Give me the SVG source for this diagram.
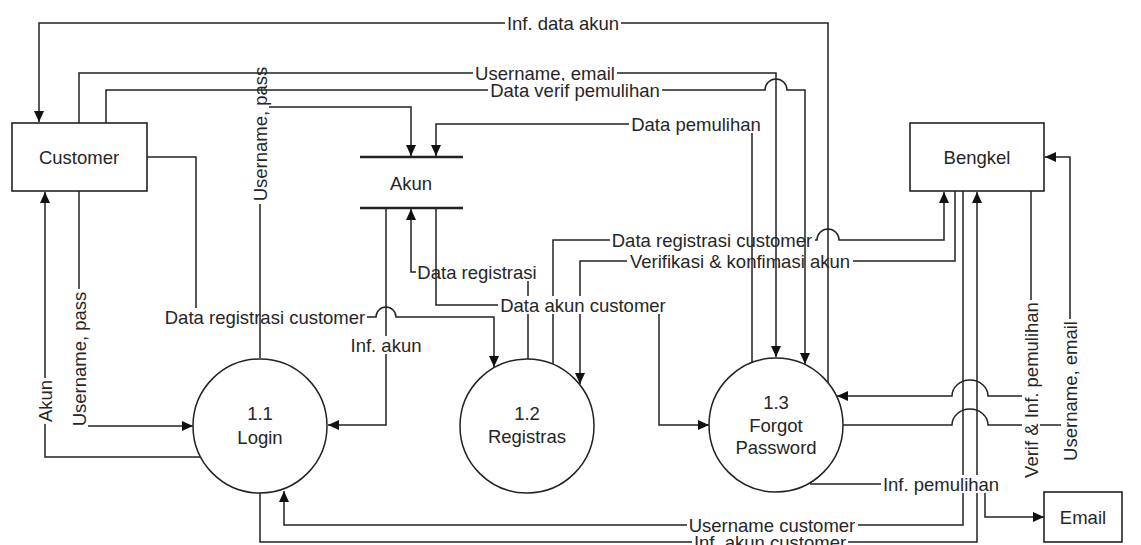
<svg xmlns="http://www.w3.org/2000/svg" width="1141" height="545" viewBox="0 0 1141 545">
<style>
text{font-family:"Liberation Sans",Arial,sans-serif;font-size:18.5px;fill:#262626;text-anchor:middle;dominant-baseline:central}
.ent{fill:#fff;stroke:#222;stroke-width:1.6}
.proc{fill:#fff;stroke:#222;stroke-width:1.5}
.ds{stroke:#222;stroke-width:2.6}
.c{fill:none;stroke:#222;stroke-width:1.5}
.a{marker-end:url(#ah)}
.bg{fill:#fff}
</style>
<defs>
<marker id="ah" markerWidth="11" markerHeight="10" refX="11" refY="5" orient="auto" markerUnits="userSpaceOnUse">
<path d="M0,0 L11,5 L0,10 z" fill="#111"/>
</marker>
</defs>
<rect width="1141" height="545" fill="#fff"/>

<g id="connectors">
<!-- 1.2 -> Bengkel : Data registrasi customer -->
<path class="c a" d="M553,364 V240 H817 A11 11 0 0 1 839,240 H944 V192"/>
<rect class="bg" x="610" y="231" width="205" height="18"/>
<text x="712" y="240">Data registrasi customer</text>
<!-- Bengkel -> 1.2 : Verifikasi -->
<path class="c a" d="M955,191 V261 H580 V384"/>
<rect class="bg" x="627" y="252" width="226" height="18"/>
<text x="740" y="261">Verifikasi &amp; konfimasi akun</text>
<!-- Customer -> 1.2 -->
<path class="c a" d="M146,157 H196 V317 H376 A10 10 0 0 1 396,317 H494 V367"/>
<rect class="bg" x="163" y="308" width="204" height="18"/>
<text x="265" y="317">Data registrasi customer</text>
<!-- Login -> Akun -->
<path class="c a" d="M260,358 V107 H411 V156"/>
<g transform="rotate(-90 260 134)">
<rect class="bg" x="190" y="125" width="140" height="18"/>
<text x="260" y="134">Username, pass</text>
</g>
<!-- Customer -> 1.3 : Username, email -->
<path class="c a" d="M79,123 V73 H776 V357"/>
<rect class="bg" x="473" y="64" width="144" height="18"/>
<text x="545" y="73">Username, email</text>
<!-- Customer -> 1.3 : Data verif pemulihan -->
<path class="c a" d="M106,123 V90 H765 A11 11 0 0 1 787,90 H805 V364"/>
<rect class="bg" x="488" y="81" width="174" height="18"/>
<text x="575" y="90">Data verif pemulihan</text>
<!-- 1.3 -> Customer : Inf. data akun -->
<path class="c a" d="M828,383 V23 H39 V122"/>
<rect class="bg" x="505" y="14" width="116" height="18"/>
<text x="563" y="23">Inf. data akun</text>
<!-- 1.2 -> Akun : Data registrasi -->
<path class="c a" d="M528,359 V272 H411 V209"/>
<rect class="bg" x="416" y="263" width="123" height="18"/>
<text x="477" y="272">Data registrasi</text>
<!-- Akun -> 1.3 : Data akun customer -->
<path class="c a" d="M436,208 V305 H659 V425 H709"/>
<rect class="bg" x="498" y="296" width="170" height="18"/>
<text x="583" y="305">Data akun customer</text>
<!-- 1.3 -> Akun : Data pemulihan -->
<path class="c a" d="M752,363 V124 H436 V156"/>
<rect class="bg" x="629" y="115" width="134" height="18"/>
<text x="696" y="124">Data pemulihan</text>
<!-- Akun -> Login : Inf. akun -->
<path class="c a" d="M386,208 V425 H328"/>
<rect class="bg" x="348" y="336" width="76" height="18"/>
<text x="386" y="345">Inf. akun</text>
<!-- Customer -> Login : Username, pass -->
<path class="c a" d="M79,191 V426 H193"/>
<g transform="rotate(-90 79 359)">
<rect class="bg" x="9" y="350" width="140" height="18"/>
<text x="79" y="359">Username, pass</text>
</g>
<!-- Login -> Customer : Akun -->
<path class="c a" d="M201,457 H45 V192"/>
<g transform="rotate(-90 45 401)">
<rect class="bg" x="22" y="392" width="46" height="18"/>
<text x="45" y="401">Akun</text>
</g>
<!-- Bengkel -> Login : Username customer -->
<path class="c a" d="M963,191 V525 H284 V491"/>
<!-- Login -> Bengkel : Inf. akun customer -->
<path class="c a" d="M260,493 V542 H977 V192"/>
<rect class="bg" x="692" y="533" width="156" height="18"/>
<text x="770" y="542">Inf. akun customer</text>
<rect class="bg" x="687" y="516" width="171" height="18"/>
<text x="772" y="525">Username customer</text>
<!-- 1.3 -> Bengkel : Username, email -->
<path class="c a" d="M843,425 H952 A18 16 0 0 1 988,425 H1070 V157 H1045"/>
<!-- Bengkel -> 1.3 : Verif & Inf. pemulihan -->
<path class="c a" d="M1031,191 V396 H988 A18 16 0 0 0 952,396 H837"/>
<g transform="rotate(-90 1031 390)">
<rect class="bg" x="941" y="381" width="180" height="18"/>
<text x="1031" y="390">Verif &amp; Inf. pemulihan</text>
</g>
<g transform="rotate(-90 1070 391)">
<rect class="bg" x="998" y="382" width="144" height="18"/>
<text x="1070" y="391">Username, email</text>
</g>
<!-- 1.3 -> Email : Inf. pemulihan -->
<path class="c a" d="M810,484 H985 V517 H1044"/>
<rect class="bg" x="881" y="475" width="120" height="18"/>
<text x="941" y="484">Inf. pemulihan</text>
</g>

<g id="customer">
<rect class="ent" x="12" y="123" width="135" height="68"/>
<text x="79" y="157">Customer</text>
</g>
<g id="bengkel">
<rect class="ent" x="910" y="123" width="134" height="68"/>
<text x="977" y="157">Bengkel</text>
</g>
<g id="email">
<rect class="ent" x="1044" y="492" width="78" height="50"/>
<text x="1083" y="517">Email</text>
</g>
<g id="akun">
<line class="ds" x1="360" y1="157" x2="463" y2="157"/>
<line class="ds" x1="360" y1="208" x2="463" y2="208"/>
<text x="411" y="183">Akun</text>
</g>
<g id="p11">
<circle class="proc" cx="260" cy="426" r="67"/>
<text x="260" y="413">1.1</text>
<text x="260" y="437">Login</text>
</g>
<g id="p12">
<circle class="proc" cx="527" cy="426" r="67"/>
<text x="527" y="413">1.2</text>
<text x="527" y="436">Registras</text>
</g>
<g id="p13">
<circle class="proc" cx="776" cy="425" r="67"/>
<text x="776" y="402">1.3</text>
<text x="776" y="425">Forgot</text>
<text x="776" y="447">Password</text>
</g>
</svg>
